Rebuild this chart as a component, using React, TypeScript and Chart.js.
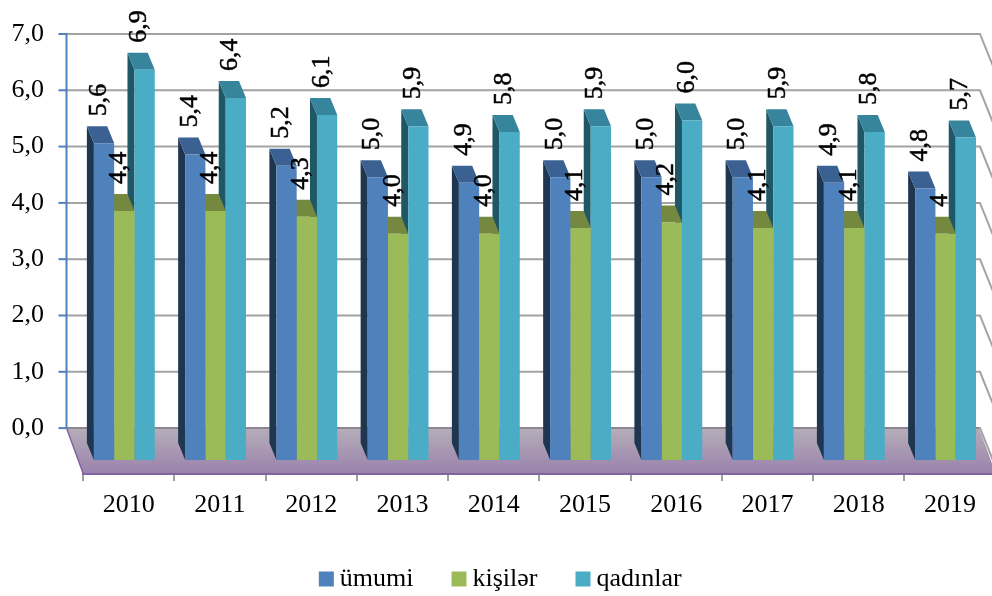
import React, { useEffect, useRef } from "react";
import { Chart, registerables } from "chart.js";

Chart.register(...registerables);

const years = ["2010", "2011", "2012", "2013", "2014", "2015", "2016", "2017", "2018", "2019"];
const umumi = [5.6, 5.4, 5.2, 5.0, 4.9, 5.0, 5.0, 5.0, 4.9, 4.8];
const kisiler = [4.4, 4.4, 4.3, 4.0, 4.0, 4.1, 4.2, 4.1, 4.1, 4.0];
const qadinlar = [6.9, 6.4, 6.1, 5.9, 5.8, 5.9, 6.0, 5.9, 5.8, 5.7];
const umumiLabels = ["5,6", "5,4", "5,2", "5,0", "4,9", "5,0", "5,0", "5,0", "4,9", "4,8"];
const kisilerLabels = ["4,4", "4,4", "4,3", "4,0", "4,0", "4,1", "4,2", "4,1", "4,1", "4"];
const qadinlarLabels = ["6,9", "6,4", "6,1", "5,9", "5,8", "5,9", "6,0", "5,9", "5,8", "5,7"];
const wallTicks = [0, 1, 2, 3, 4, 5, 6, 7];

const FONT = '"Liberation Serif"';
const shades = [
  { side: "#1f3650", top: "#3a6192" },
  { side: "#5f7530", top: "#74893f" },
  { side: "#205766", top: "#37859c" },
];
const seriesLabels = [umumiLabels, kisilerLabels, qadinlarLabels];

const BAR_DX = 7;
const BAR_DY = 17;
const BAR_SHIFT = 4.3;
const WALL_DX = 16.5;
const WALL_DY = 41;

const scene = {
  id: "scene3d",
  beforeDatasetsDraw(chart: any) {
    const { ctx, chartArea, scales } = chart;
    const y = scales.y;
    const wallLeft = chartArea.left - WALL_DX;
    const wallRight = chartArea.right - WALL_DX;
    const y0 = y.getPixelForValue(0);
    const y7 = y.getPixelForValue(7);
    const floorB = chartArea.bottom;

    ctx.save();
    // floor
    const grad = ctx.createLinearGradient(0, y0, 0, floorB);
    grad.addColorStop(0, "#b5aeb8");
    grad.addColorStop(1, "#9a82ad");
    ctx.fillStyle = grad;
    ctx.beginPath();
    ctx.moveTo(wallLeft, y0);
    ctx.lineTo(wallRight, y0);
    ctx.lineTo(chartArea.right, floorB);
    ctx.lineTo(chartArea.left, floorB);
    ctx.closePath();
    ctx.fill();
    ctx.strokeStyle = "#8064a2";
    ctx.lineWidth = 1.5;
    ctx.beginPath();
    ctx.moveTo(wallLeft, y0);
    ctx.lineTo(chartArea.left, floorB);
    ctx.stroke();

    // grid lines on the wall with their side return
    ctx.strokeStyle = "#a3a3a3";
    ctx.lineWidth = 2;
    wallTicks.forEach((v) => {
      const py = y.getPixelForValue(v);
      ctx.beginPath();
      ctx.moveTo(wallLeft, py);
      ctx.lineTo(wallRight + 1, py);
      ctx.lineTo(wallRight + 1 + WALL_DX, py + WALL_DY);
      ctx.stroke();
    });
    ctx.strokeStyle = "#8d8592";
    ctx.beginPath();
    ctx.moveTo(wallLeft, y0);
    ctx.lineTo(wallRight, y0);
    ctx.stroke();

    // value axis
    ctx.strokeStyle = "#4f81bd";
    ctx.lineWidth = 2;
    ctx.beginPath();
    ctx.moveTo(wallLeft, y7 - 1);
    ctx.lineTo(wallLeft, y0);
    ctx.stroke();
    wallTicks.forEach((v) => {
      const py = y.getPixelForValue(v);
      ctx.beginPath();
      ctx.moveTo(wallLeft - 8, py);
      ctx.lineTo(wallLeft, py);
      ctx.stroke();
    });
    ctx.restore();

    // bars: depth faces back to front, fronts come from the library
    ctx.save();
    ctx.translate(-BAR_SHIFT, 0);
    for (let d = chart.data.datasets.length - 1; d >= 0; d--) {
      chart.getDatasetMeta(d).data.forEach((bar: any) => {
        const l = bar.x - bar.width / 2;
        const r = bar.x + bar.width / 2;
        ctx.fillStyle = shades[d].side;
        ctx.beginPath();
        ctx.moveTo(l, bar.y);
        ctx.lineTo(l - BAR_DX, bar.y - BAR_DY);
        ctx.lineTo(l - BAR_DX, bar.base - BAR_DY);
        ctx.lineTo(l, bar.base);
        ctx.closePath();
        ctx.fill();
        ctx.fillStyle = shades[d].top;
        ctx.beginPath();
        ctx.moveTo(l, bar.y);
        ctx.lineTo(l - BAR_DX, bar.y - BAR_DY);
        ctx.lineTo(r - BAR_DX, bar.y - BAR_DY);
        ctx.lineTo(r, bar.y);
        ctx.closePath();
        ctx.fill();
      });
    }
    // keep the shift for the fronts
  },
  afterDatasetsDraw(chart: any) {
    const { ctx } = chart;
    ctx.restore();
    ctx.save();
    ctx.font = `26px ${FONT}`;
    ctx.fillStyle = "#000";
    ctx.strokeStyle = "#000";
    ctx.lineWidth = 0.5;
    ctx.textAlign = "left";
    ctx.textBaseline = "alphabetic";
    chart.data.datasets.forEach((_: any, d: number) => {
      chart.getDatasetMeta(d).data.forEach((bar: any, i: number) => {
        ctx.save();
        ctx.translate(bar.x - BAR_SHIFT - BAR_DX + 8.5, bar.y - BAR_DY - 10);
        ctx.rotate(-Math.PI / 2);
        ctx.fillText(seriesLabels[d][i], 0, 0);
        ctx.strokeText(seriesLabels[d][i], 0, 0);
        ctx.restore();
      });
    });
    ctx.restore();
  },
};

export default function App() {
  const ref = useRef<HTMLCanvasElement>(null);
  useEffect(() => {
    const chart = new Chart(ref.current as HTMLCanvasElement, {
      type: "bar",
      data: {
        labels: years,
        datasets: [
          { label: "ümumi", data: umumi, backgroundColor: "#4f81bd", yAxisID: "yBars" },
          { label: "kişilər", data: kisiler, backgroundColor: "#9bbb59", yAxisID: "yBars" },
          { label: "qadınlar", data: qadinlar, backgroundColor: "#4bacc6", yAxisID: "yBars" },
        ],
      },
      plugins: [scene],
      options: {
        animation: false,
        responsive: false,
        events: [],
        layout: { padding: { top: 21, right: 36.5, left: 12, bottom: 0 } },
        datasets: { bar: { categoryPercentage: 0.667, barPercentage: 1 } },
        plugins: {
          tooltip: { enabled: false },
          legend: {
            position: "bottom",
            labels: {
              usePointStyle: true,
              pointStyle: "rect",
              boxWidth: 1,
              boxHeight: 15,
              padding: 45,
              color: "#000",
              font: { family: FONT, size: 26 },
            },
          },
        },
        scales: {
          x: {
            offset: true,
            grid: { display: true, drawOnChartArea: false, tickLength: 8, color: "#a0a0a0", lineWidth: 2, offset: true },
            border: { display: true, color: "#8064a2", width: 3 },
            ticks: { color: "#000", padding: 9, maxRotation: 0, font: { family: FONT, size: 26 } },
            afterFit: (s: any) => { s.height = 48; },
          },
          y: {
            position: "left",
            min: -45 / 56.43,
            max: 7 + 13 / 56.43,
            grid: { display: true, drawOnChartArea: false, drawTicks: true, tickLength: 39, color: "transparent", tickColor: "transparent" },
            border: { display: false },
            afterBuildTicks: (s: any) => { s.ticks = wallTicks.map((value) => ({ value })); },
            ticks: {
              color: "#000",
              padding: 0,
              autoSkip: false,
              font: { family: FONT, size: 26 },
              callback: (v: any) => Number(v).toFixed(1).replace(".", ","),
            },
            afterFit: (s: any) => { s.width = 71; },
          },
          yBars: {
            display: false,
            position: "left",
            min: -13 / 56.7,
            max: 440 / 56.7,
          },
        },
      },
    } as any);
    return () => chart.destroy();
  }, []);
  return (
    <div style={{ position: "fixed", left: 0, top: 0, width: 992, height: 596, overflow: "hidden", background: "#fff" }}>
      <canvas ref={ref} width={1032} height={602} style={{ display: "block", width: 1032, height: 602 }} />
    </div>
  );
}
